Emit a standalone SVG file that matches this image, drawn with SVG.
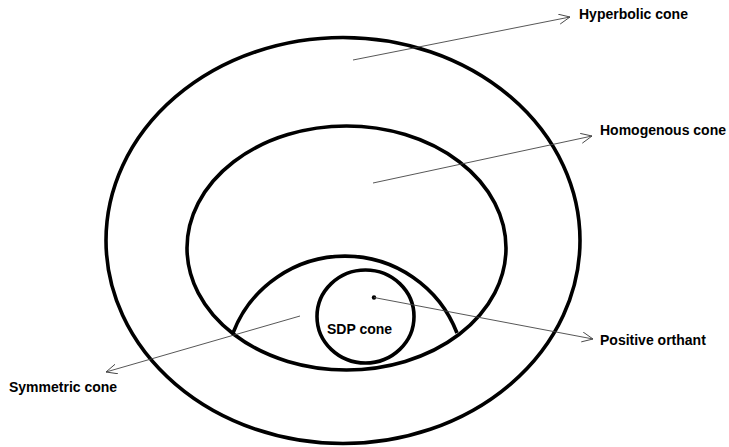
<svg xmlns="http://www.w3.org/2000/svg" width="729" height="447" viewBox="0 0 729 447">
<style>
.shape{fill:none;stroke:#000;stroke-width:3.6}
.conn{fill:none;stroke:#444;stroke-width:0.9}
.lbl{font-family:"Liberation Sans",Arial,sans-serif;font-weight:bold;font-size:14px;fill:#000}
</style>
<defs>
<marker id="arr" markerUnits="userSpaceOnUse" markerWidth="14" markerHeight="12" refX="11" refY="5" orient="auto" viewBox="0 0 14 12">
<path d="M0,0 L11,5 L0,10" fill="none" stroke="#444" stroke-width="0.9"/>
</marker>
</defs>
<rect width="729" height="447" fill="#fff"/>
<g id="hyperbolic">
<ellipse class="shape" cx="343" cy="240.5" rx="237" ry="203"/>
<text class="lbl" x="579" y="18.5">Hyperbolic cone</text>
</g>
<g id="homogenous">
<ellipse class="shape" cx="346.5" cy="248" rx="159.5" ry="122"/>
<text class="lbl" x="600" y="134.5">Homogenous cone</text>
</g>
<g id="symmetric">
<path class="shape" d="M233,333 A120,120 0 0 1 457,333"/>
<text class="lbl" x="9" y="392">Symmetric cone</text>
</g>
<g id="sdp">
<ellipse class="shape" cx="365.5" cy="316.5" rx="48.5" ry="46.5"/>
<text class="lbl" x="327" y="334">SDP cone</text>
</g>
<g id="positive">
<circle cx="374" cy="297.5" r="2.2" fill="#000"/>
<text class="lbl" x="600" y="344.5">Positive orthant</text>
</g>
<g id="connectors">
<line class="conn" x1="353" y1="60" x2="570" y2="17" marker-end="url(#arr)"/>
<line class="conn" x1="373" y1="183" x2="592" y2="136" marker-end="url(#arr)"/>
<line class="conn" x1="374" y1="297.5" x2="593" y2="339" marker-end="url(#arr)"/>
<line class="conn" x1="300" y1="316" x2="106" y2="372" marker-end="url(#arr)"/>
</g>
</svg>
